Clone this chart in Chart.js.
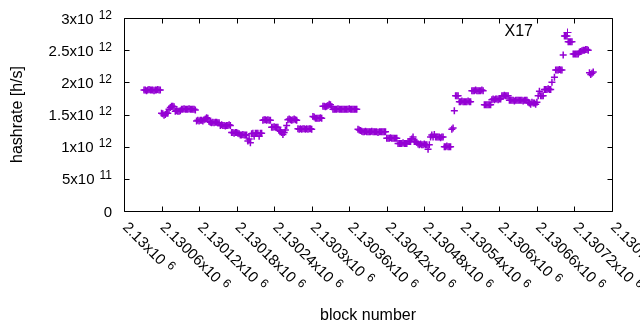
<!DOCTYPE html>
<html>
<head>
<meta charset="utf-8">
<script src="https://cdn.jsdelivr.net/npm/chart.js@4.4.1/dist/chart.umd.min.js"></script>
<style>
  body { margin: 0; background: #fff; }
  #wrap { width: 640px; height: 330px; }
</style>
</head>
<body>
<div id="wrap"><canvas id="canvas" width="640" height="330"></canvas></div>
<script>
const seriesName = "X17";
const xTitle = "block number";
const yTitle = "hashrate [h/s]";
const xRange = [2130000, 2130780];
const xTickStep = 60;
const yRange = [0, 3e12];
const yTickStep = 5e11;

// block numbers and hashrate (in TH/s, i.e. x10^12 h/s)
const blocks = [
  2130032,2130034,2130036,2130038,2130040,2130042,2130044,2130046,2130048,2130050,2130052,2130054,2130056,2130058,
  2130060,2130062,2130064,2130066,2130068,2130070,
  2130072,2130074,2130076,2130078,2130080,
  2130082,2130084,2130086,2130088,2130090,
  2130092,2130094,2130096,2130098,2130100,2130102,2130104,2130106,2130108,2130110,2130112,2130114,
  2130116,2130118,2130120,2130122,2130124,2130126,2130128,
  2130130,2130132,2130134,2130136,
  2130138,2130140,2130142,2130144,2130146,2130148,2130150,2130152,
  2130154,2130156,2130158,2130160,2130162,2130164,2130166,2130168,2130170,
  2130172,2130174,2130176,2130178,2130180,2130182,2130184,
  2130186,2130188,2130190,2130192,2130194,2130196,2130198,
  2130200,2130202,2130204,2130206,2130208,2130210,2130212,2130214,2130216,2130218,2130220,
  2130222,2130224,2130226,2130228,2130230,2130232,2130234,
  2130236,2130238,2130240,2130242,2130244,2130246,
  2130248,2130250,2130252,2130254,2130256,2130258,2130260,
  2130262,2130264,2130266,2130268,2130270,2130272,2130274,2130276,
  2130278,2130280,2130282,2130284,2130286,2130288,2130290,2130292,2130294,2130296,2130298,2130300,
  2130302,2130304,2130306,2130308,2130310,2130312,2130314,2130316,
  2130318,2130320,2130322,2130324,2130326,2130328,2130330,2130332,
  2130334,2130336,2130338,2130340,2130342,2130344,2130346,2130348,2130350,2130352,
  2130354,2130356,2130358,2130360,2130362,2130364,2130366,2130368,2130370,2130372,
  2130374,2130376,2130378,2130380,2130382,2130384,2130386,2130388,2130390,2130392,2130394,2130396,
  2130398,2130400,2130402,2130404,2130406,2130408,2130410,2130412,2130414,2130416,2130418,
  2130420,2130422,2130424,2130426,2130428,2130430,2130432,2130434,2130436,
  2130438,2130440,2130442,2130444,2130446,2130448,2130450,2130452,
  2130454,2130456,2130458,2130460,2130462,2130464,2130466,2130468,
  2130470,2130472,2130474,2130476,2130478,2130480,2130482,2130484,2130486,2130488,
  2130490,2130492,2130494,2130496,2130498,2130500,2130502,2130504,2130506,2130508,2130510,
  2130512,2130514,2130516,2130518,2130520,2130522,
  2130524,2130526,2130528,
  2130530,2130532,2130534,
  2130536,2130538,2130540,2130542,2130544,2130546,2130548,2130550,2130552,2130554,
  2130556,2130558,2130560,2130562,2130564,2130566,2130568,2130570,2130572,2130574,
  2130576,2130578,2130580,2130582,2130584,2130586,
  2130588,2130590,2130592,2130594,2130596,2130598,2130600,2130602,
  2130604,2130606,2130608,2130610,2130612,2130614,
  2130616,2130618,2130620,2130622,2130624,2130626,2130628,2130630,2130632,2130634,2130636,2130638,2130640,2130642,2130644,
  2130646,2130648,2130650,2130652,2130654,2130656,2130658,2130660,
  2130662,2130664,2130666,2130668,2130670,
  2130672,2130674,2130676,2130678,2130680,2130682,
  2130684,2130688,
  2130690,2130692,2130694,2130696,2130698,2130700,
  2130702,
  2130704,2130706,2130708,2130710,2130712,2130714,2130716,
  2130718,2130720,2130722,2130724,2130726,
  2130728,2130730,2130732,2130734,2130736,2130738,2130740,2130742,
  2130744,2130746,2130748,2130750
];
const hashrateTH = [
  1.88,1.88,1.87,1.88,1.89,1.88,1.88,1.88,1.87,1.88,1.88,1.89,1.88,1.88,
  1.52,1.51,1.49,1.50,1.52,1.52,
  1.58,1.61,1.63,1.63,1.62,
  1.55,1.56,1.55,1.55,1.56,
  1.58,1.58,1.59,1.58,1.58,1.58,1.59,1.58,1.58,1.58,1.58,1.57,
  1.40,1.41,1.40,1.41,1.41,1.40,1.42,
  1.43,1.45,1.44,1.39,
  1.38,1.37,1.38,1.37,1.38,1.38,1.37,1.37,
  1.33,1.34,1.33,1.33,1.32,1.33,1.33,1.34,1.33,
  1.22,1.22,1.21,1.22,1.22,1.21,1.20,
  1.18,1.18,1.19,1.18,1.18,1.18,1.09,
  1.12,1.06,1.20,1.21,1.16,1.21,1.21,1.21,1.16,1.21,1.21,
  1.41,1.42,1.42,1.41,1.42,1.41,1.41,
  1.30,1.30,1.31,1.30,1.30,1.30,
  1.25,1.24,1.22,1.19,1.22,1.26,1.33,
  1.42,1.43,1.42,1.41,1.42,1.43,1.42,1.41,
  1.28,1.27,1.28,1.27,1.28,1.28,1.27,1.28,1.27,1.28,1.28,1.27,
  1.47,1.46,1.44,1.44,1.44,1.44,1.45,1.44,
  1.63,1.63,1.62,1.63,1.64,1.66,1.65,1.62,
  1.58,1.58,1.58,1.58,1.59,1.58,1.58,1.58,1.58,1.58,
  1.58,1.58,1.58,1.59,1.58,1.58,1.58,1.58,1.58,1.58,
  1.27,1.26,1.25,1.24,1.23,1.23,1.24,1.23,1.23,1.23,1.23,1.24,
  1.23,1.23,1.23,1.23,1.22,1.23,1.23,1.23,1.23,1.23,1.23,
  1.13,1.13,1.13,1.14,1.13,1.13,1.13,1.13,1.13,
  1.05,1.05,1.05,1.05,1.06,1.05,1.05,1.05,
  1.08,1.08,1.08,1.12,1.15,1.08,1.08,1.07,
  1.04,1.03,1.04,1.03,1.03,1.04,1.03,1.03,0.96,1.03,
  1.15,1.18,1.15,1.19,1.15,1.15,1.15,1.15,1.14,1.15,1.15,
  1.00,1.00,1.01,1.00,1.00,1.00,
  1.27,1.29,1.56,
  1.79,1.79,1.79,
  1.70,1.70,1.71,1.70,1.70,1.70,1.70,1.71,1.70,1.70,
  1.87,1.87,1.87,1.88,1.87,1.87,1.87,1.87,1.88,1.87,
  1.65,1.65,1.65,1.65,1.65,1.65,
  1.73,1.74,1.73,1.74,1.74,1.73,1.74,1.74,
  1.79,1.79,1.80,1.79,1.79,1.79,
  1.72,1.72,1.72,1.72,1.71,1.72,1.72,1.72,1.72,1.72,1.72,1.71,1.72,1.72,1.72,
  1.69,1.68,1.66,1.69,1.68,1.68,1.66,1.69,
  1.79,1.86,1.79,1.79,1.79,
  1.89,1.89,1.89,1.90,1.89,1.89,
  2.00,2.08,
  2.19,2.19,2.19,2.20,2.19,2.19,
  2.425,
  2.72,2.72,2.72,2.63,2.63,2.63,2.63,
  2.44,2.44,2.44,2.44,2.44,
  2.47,2.48,2.49,2.50,2.50,2.51,2.51,2.50,
  2.15,2.12,2.14,2.16
];

const points = blocks.map((b, i) => ({ x: b, y: hashrateTH[i] * 1e12 }));

const FONT = "'Liberation Sans', Arial, sans-serif";
const markColor = "#9400d3";

// "2.5x10^12" -> main + exponent, the way gnuplot writes it
function splitLabel(v) {
  if (v === 0) return { main: "0", exp: "" };
  const e = Math.floor(Math.log10(Math.abs(v)) + 1e-9);
  const m = Number((v / Math.pow(10, e)).toPrecision(7));
  return { main: m + "x10", exp: String(e) };
}

const gnuplotFrame = {
  id: "gnuplotFrame",
  afterDraw(chart) {
    const ctx = chart.ctx;
    const a = chart.chartArea;
    const xs = chart.scales.x, ys = chart.scales.y;
    const L = Math.round(a.left) + 0.5, R = Math.round(a.right) + 0.5;
    const T = Math.round(a.top) + 0.5, B = Math.round(a.bottom) + 0.5;
    const tl = 5;
    ctx.save();
    ctx.strokeStyle = "#000";
    ctx.lineWidth = 1;
    ctx.beginPath();
    ctx.moveTo(L, T); ctx.lineTo(R, T); ctx.lineTo(R, B); ctx.lineTo(L, B); ctx.closePath();
    xs.ticks.forEach(t => {
      const px = Math.round(xs.getPixelForValue(t.value)) + 0.5;
      ctx.moveTo(px, B); ctx.lineTo(px, B - tl);
      ctx.moveTo(px, T); ctx.lineTo(px, T + tl);
    });
    ys.ticks.forEach(t => {
      const py = Math.round(ys.getPixelForValue(t.value)) + 0.5;
      ctx.moveTo(L, py); ctx.lineTo(L + tl, py);
      ctx.moveTo(R, py); ctx.lineTo(R - tl, py);
    });
    ctx.stroke();

    ctx.fillStyle = "#000";
    // y tick labels
    ys.ticks.forEach(t => {
      const py = ys.getPixelForValue(t.value);
      const lab = splitLabel(t.value);
      let right = a.left - 12;
      ctx.textBaseline = "alphabetic";
      ctx.textAlign = "left";
      if (lab.exp) {
        ctx.font = "12px " + FONT;
        const ew = ctx.measureText(lab.exp).width;
        ctx.fillText(lab.exp, right - ew, py + 0.5);
        right = right - ew - 5;
      }
      ctx.font = "15px " + FONT;
      const mw = ctx.measureText(lab.main).width;
      ctx.fillText(lab.main, right - mw, py + 5.5);
    });

    // x tick labels, rotated
    xs.ticks.forEach(t => {
      const px = xs.getPixelForValue(t.value);
      const lab = splitLabel(t.value);
      ctx.save();
      ctx.translate(px - 2, 228);
      ctx.rotate(Math.PI / 4);
      ctx.textAlign = "left";
      ctx.textBaseline = "alphabetic";
      ctx.font = "15px " + FONT;
      ctx.fillText(lab.main, 0, 0);
      const mw = ctx.measureText(lab.main).width;
      ctx.font = "12px " + FONT;
      ctx.fillText(lab.exp, mw + 5, -4.5);
      ctx.restore();
    });

    // axis titles
    ctx.font = "16px " + FONT;
    ctx.textAlign = "center";
    ctx.textBaseline = "middle";
    ctx.fillText(xTitle, (a.left + a.right) / 2, 316);
    ctx.save();
    ctx.translate(18, (a.top + a.bottom) / 2);
    ctx.rotate(-Math.PI / 2);
    ctx.fillText(yTitle, 0, 0);
    ctx.restore();

    // key
    ctx.textAlign = "right";
    ctx.fillText(seriesName, 533, 32);
    ctx.strokeStyle = markColor;
    ctx.beginPath();
    ctx.moveTo(563.5, 32.5); ctx.lineTo(571.5, 32.5);
    ctx.moveTo(567.5, 28.5); ctx.lineTo(567.5, 36.5);
    ctx.stroke();
    ctx.restore();
  }
};

new Chart("canvas", {
  type: "scatter",
  data: {
    datasets: [{
      label: seriesName,
      data: points,
      pointStyle: "cross",
      pointRadius: 3.5,
      pointHoverRadius: 3.5,
      borderColor: markColor,
      backgroundColor: markColor,
      borderWidth: 1.5
    }]
  },
  options: {
    responsive: false,
    animation: false,
    devicePixelRatio: 1,
    layout: { padding: { left: 124, right: 28, top: 18, bottom: 119 } },
    plugins: { legend: { display: false }, tooltip: { enabled: false } },
    events: [],
    scales: {
      x: { type: "linear", display: false, min: xRange[0], max: xRange[1],
           ticks: { stepSize: xTickStep, autoSkip: false } },
      y: { type: "linear", display: false, min: yRange[0], max: yRange[1],
           ticks: { stepSize: yTickStep, autoSkip: false } }
    }
  },
  plugins: [gnuplotFrame]
});
</script>
</body>
</html>
